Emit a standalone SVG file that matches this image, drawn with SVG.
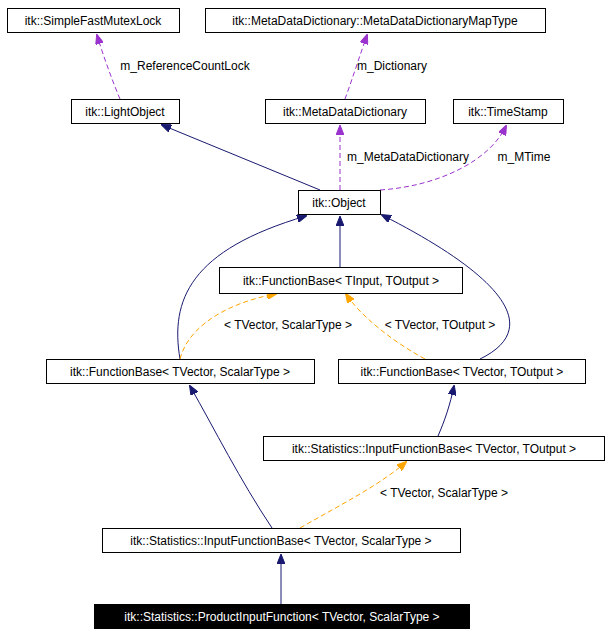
<svg xmlns="http://www.w3.org/2000/svg" width="611" height="636" viewBox="0 0 611 636">
<style>
rect{fill:#fff;stroke:#000;stroke-width:1}
text{font-family:"Liberation Sans",Arial,sans-serif;font-size:12px;fill:#000;text-anchor:middle}
.inh{fill:none;stroke:#191970;stroke-width:1}
.use{fill:none;stroke:#9a32cd;stroke-width:1;stroke-dasharray:5,3}
.tpl{fill:none;stroke:#ffa500;stroke-width:1;stroke-dasharray:5,3}
</style>
<defs>
<marker id="an" markerWidth="10" markerHeight="8" refX="9" refY="4" orient="auto" markerUnits="userSpaceOnUse"><path d="M0,0L10,4L0,8z" fill="#191970" stroke="#191970"/></marker>
<marker id="ap" markerWidth="10" markerHeight="8" refX="9" refY="4" orient="auto" markerUnits="userSpaceOnUse"><path d="M0,0L10,4L0,8z" fill="#9a32cd" stroke="#9a32cd"/></marker>
<marker id="ao" markerWidth="10" markerHeight="8" refX="9" refY="4" orient="auto" markerUnits="userSpaceOnUse"><path d="M0,0L10,4L0,8z" fill="#ffa500" stroke="#ffa500"/></marker>
</defs>
<g id="edges">
<path class="inh" d="M320,190L162,125" marker-end="url(#an)"/>
<path class="use" d="M340,190L340,126" marker-end="url(#ap)"/>
<text x="408" y="161">m_MetaDataDictionary</text>
<path class="use" d="M380,190C440,186 490,160 506,126" marker-end="url(#ap)"/>
<text x="524" y="161">m_MTime</text>
<path class="use" d="M120,99C112,80 103,55 97,35" marker-end="url(#ap)"/>
<text x="185" y="70">m_ReferenceCountLock</text>
<path class="use" d="M345,99C352,80 360,55 367,35" marker-end="url(#ap)"/>
<text x="392" y="70">m_Dictionary</text>
<path class="inh" d="M340,267L340,217" marker-end="url(#an)"/>
<path class="inh" d="M180,359C170,300 190,250 306,216" marker-end="url(#an)"/>
<path class="inh" d="M480,359C540,330 510,280 382,215" marker-end="url(#an)"/>
<path class="tpl" d="M180,359C190,320 240,300 276,294" marker-end="url(#ao)"/>
<text x="288" y="329">&lt; TVector, ScalarType &gt;</text>
<path class="tpl" d="M425,359C390,340 360,315 346,294" marker-end="url(#ao)"/>
<text x="440" y="329">&lt; TVector, TOutput &gt;</text>
<path class="inh" d="M272,528C240,480 215,430 190,386" marker-end="url(#an)"/>
<path class="inh" d="M438,436C445,420 450,405 454,386" marker-end="url(#an)"/>
<path class="tpl" d="M300,528C340,505 380,485 406,462" marker-end="url(#ao)"/>
<text x="444" y="497">&lt; TVector, ScalarType &gt;</text>
<path class="inh" d="M281,604L281,555" marker-end="url(#an)"/>
</g>
<g id="n1"><rect x="7.5" y="8.5" width="172" height="24"/><text x="93" y="25">itk::SimpleFastMutexLock</text></g>
<g id="n2"><rect x="205.5" y="8.5" width="340" height="24"/><text x="375" y="25">itk::MetaDataDictionary::MetaDataDictionaryMapType</text></g>
<g id="n3"><rect x="71.5" y="99.5" width="108" height="24"/><text x="125" y="116">itk::LightObject</text></g>
<g id="n4"><rect x="265.5" y="99.5" width="160" height="24"/><text x="345" y="116">itk::MetaDataDictionary</text></g>
<g id="n5"><rect x="453.5" y="99.5" width="110" height="24"/><text x="508" y="116">itk::TimeStamp</text></g>
<g id="n6"><rect x="298.5" y="190.5" width="82" height="24"/><text x="339" y="207">itk::Object</text></g>
<g id="n7"><rect x="219.5" y="267.5" width="243" height="26"/><text x="341" y="285">itk::FunctionBase&lt; TInput, TOutput &gt;</text></g>
<g id="n8"><rect x="46.5" y="359.5" width="268" height="24"/><text x="180" y="376">itk::FunctionBase&lt; TVector, ScalarType &gt;</text></g>
<g id="n9"><rect x="338.5" y="359.5" width="247" height="24"/><text x="462" y="376">itk::FunctionBase&lt; TVector, TOutput &gt;</text></g>
<g id="n10"><rect x="263.5" y="436.5" width="341" height="24"/><text x="434" y="453">itk::Statistics::InputFunctionBase&lt; TVector, TOutput &gt;</text></g>
<g id="n11"><rect x="102.5" y="528.5" width="358" height="24"/><text x="281" y="545">itk::Statistics::InputFunctionBase&lt; TVector, ScalarType &gt;</text></g>
<g id="n12"><rect x="94.5" y="604.5" width="375" height="24" style="fill:#000"/><text x="282" y="621" style="fill:#fff">itk::Statistics::ProductInputFunction&lt; TVector, ScalarType &gt;</text></g>
</svg>
